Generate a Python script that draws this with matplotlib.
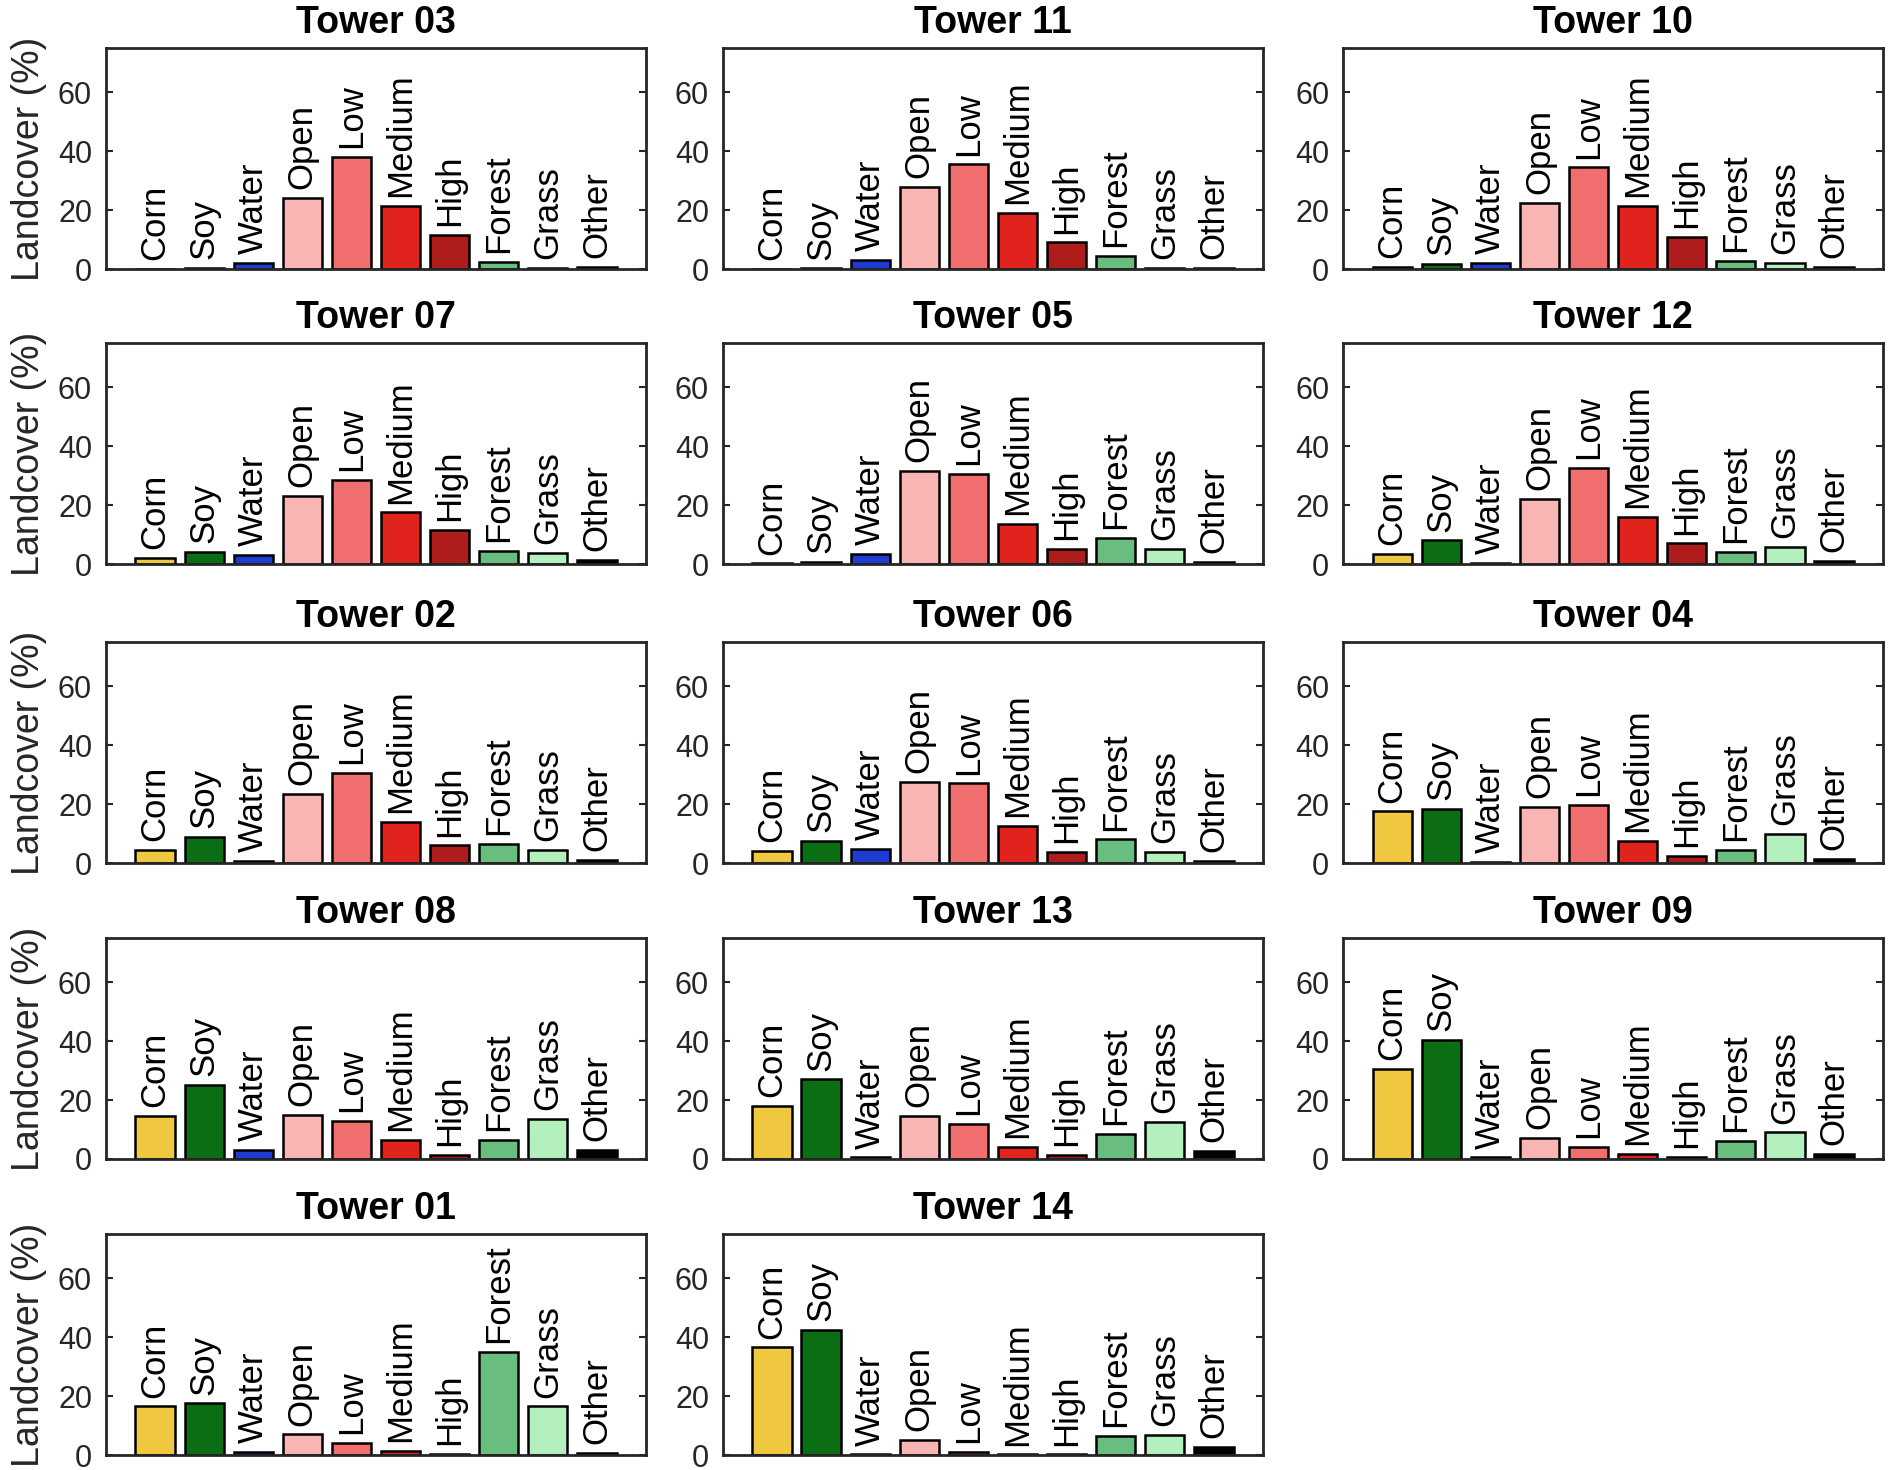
import numpy as np
import matplotlib
matplotlib.use("Agg")
import matplotlib.pyplot as plt

plt.rcParams['font.family'] = ['Liberation Sans', 'DejaVu Sans']

# landcover classes and colours
classes = ['Corn', 'Soy', 'Water', 'Open', 'Low', 'Medium', 'High', 'Forest', 'Grass', 'Other']
class_colors = ['#F0C840', '#0B6E14', '#1E3CD2', '#F9B4B4', '#F06E6E',
                '#E1231E', '#AF1C1C', '#69BE7D', '#B4F0BE', '#000000']

# towers in panel order (row by row)
towers = ['Tower 03', 'Tower 11', 'Tower 10',
          'Tower 07', 'Tower 05', 'Tower 12',
          'Tower 02', 'Tower 06', 'Tower 04',
          'Tower 08', 'Tower 13', 'Tower 09',
          'Tower 01', 'Tower 14']

# landcover percentages per tower, same order as classes
tower03 = [0.0, 0.3, 2.0, 24.0, 38.0, 21.5, 11.5, 2.5, 0.3, 0.6]
tower11 = [0.0, 0.2, 3.0, 28.0, 35.5, 19.0, 9.0, 4.5, 0.4, 0.3]
tower10 = [0.8, 1.7, 2.0, 22.5, 34.5, 21.5, 11.0, 2.8, 2.0, 0.7]
tower07 = [2.0, 4.0, 3.0, 23.0, 28.5, 17.5, 11.5, 4.5, 3.7, 1.5]
tower05 = [0.2, 0.6, 3.5, 31.5, 30.5, 13.5, 5.0, 9.0, 5.0, 0.8]
tower12 = [3.5, 8.0, 0.4, 22.0, 32.5, 16.0, 7.0, 4.2, 5.8, 1.2]
tower02 = [4.5, 9.0, 0.8, 23.5, 30.5, 14.0, 6.0, 6.5, 4.5, 1.0]
tower06 = [4.0, 7.5, 4.8, 27.5, 27.0, 12.5, 3.8, 8.0, 3.8, 0.8]
tower04 = [17.5, 18.5, 0.5, 19.0, 19.8, 7.5, 2.5, 4.5, 9.8, 1.5]
tower08 = [14.5, 25.0, 3.0, 15.0, 13.0, 6.5, 1.5, 6.5, 13.5, 3.0]
tower13 = [18.0, 27.0, 0.5, 14.5, 12.0, 4.0, 1.5, 8.5, 12.5, 2.8]
tower09 = [30.5, 40.5, 0.5, 7.0, 4.0, 1.6, 0.6, 6.2, 9.0, 1.8]
tower01 = [16.5, 17.5, 1.0, 7.0, 4.0, 1.5, 0.4, 35.0, 16.5, 0.8]
tower14 = [36.5, 42.5, 0.2, 5.0, 1.0, 0.2, 0.2, 6.5, 6.8, 2.8]

tower_values = [tower03, tower11, tower10, tower07, tower05, tower12, tower02,
                tower06, tower04, tower08, tower13, tower09, tower01, tower14]

yticks = [0, 20, 40, 60]

fig = plt.figure(figsize=(18.89, 14.70), dpi=100)

col_left = [0.0561, 0.3827, 0.7110]
row_bottom = [0.8170, 0.6163, 0.4129, 0.2116, 0.0102]
ax_w = 0.2859
ax_h = 0.1503

x = np.arange(1, len(classes) + 1)

for i, (name, vals) in enumerate(zip(towers, tower_values)):
    r, c = divmod(i, 3)
    ax = fig.add_axes([col_left[c], row_bottom[r], ax_w, ax_h])
    ax.bar(x, vals, width=0.8, color=class_colors, edgecolor='black', linewidth=1.8)
    for xi, v, lab in zip(x, vals, classes):
        ax.text(xi, v + 3.0, lab, rotation=90, ha='center', va='bottom', fontsize=25)
    ax.set_xlim(0, 11)
    ax.set_ylim(0, 75)
    ax.set_xticks([])
    ax.set_yticks(yticks)
    ax.tick_params(axis='y', direction='in', length=5, width=1.5, pad=10,
                   labelsize=22, right=True, colors='#262626')
    for sp in ax.spines.values():
        sp.set_linewidth(2.0)
        sp.set_color('#262626')
    ax.set_title(name, fontsize=27, fontweight='bold', pad=11)
    if c == 0:
        ax.set_ylabel('Landcover (%)', fontsize=27, labelpad=8, color='#262626')

fig.savefig('out.png', dpi=100)
